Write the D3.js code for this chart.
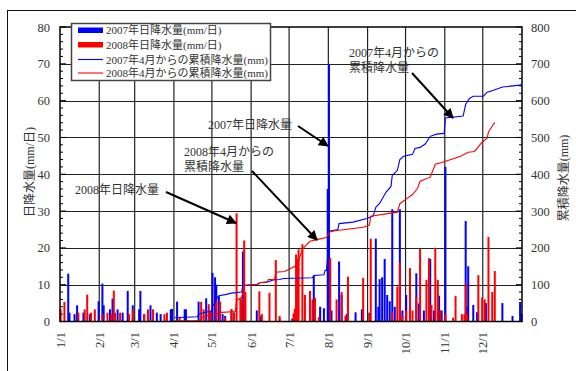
<!DOCTYPE html>
<html>
<head>
<meta charset="utf-8">
<script src="https://cdn.jsdelivr.net/npm/d3@7"></script>
<style>
  body { margin: 0; background: #fff; }
  svg text { font-family: "Liberation Serif", "DejaVu Serif", "Noto Sans CJK JP", serif; fill: #333; }
</style>
</head>
<body>
<svg id="chart" width="576" height="371"></svg>
<script>
// daily rainfall [month, day, mm]
const rain2007 = [
  [1,7,13],[1,8,2.4],[1,12,2],[1,14,4.4],[1,19,2.4],[1,24,2],[1,31,5.5],
  [2,3,10.3],[2,4,4.4],[2,9,3.3],[2,11,6.2],[2,15,3.3],[2,19,2.4],[2,23,8.3],[2,27,4.4],
  [3,4,3.3],[3,5,8.3],[3,8,2],[3,13,4.4],[3,18,2.4],[3,21,2],[3,29,3.3],[3,30,3.4],
  [4,3,5.4],[4,9,3.3],[4,10,3.3],[4,20,5.4],[4,26,6.3],
  [5,1,13.2],[5,3,12],[5,4,10],[5,6,6.9],[5,9,2],[5,11,1.5],[5,16,3],[5,25,19],
  [6,5,3],[6,8,1.5],[6,23,0.8],[7,3,0.8],[7,20,12.4],[7,25,4],[7,28,3.6],[7,31,36],
  [8,1,70],[8,3,3],[8,9,16.3],[8,11,7.2],[8,15,2],[8,22,2.5],[8,27,3.3],
  [9,2,2.4],[9,7,22.5],[9,9,4],[9,10,11.5],[9,12,12],[9,14,17],[9,16,7.2],[9,18,5.5],
  [9,20,30.5],[9,22,4],[9,26,30.5],[9,28,3],
  [10,1,7.2],[10,9,13.1],[10,11,4.9],[10,15,3],[10,20,17],[10,23,3],[10,27,7],[10,29,3],
  [11,1,42],[11,17,27.3],[11,18,4],[11,19,15],[11,23,4.5],[11,26,2.5],
  [12,3,5],[12,16,5],[12,24,1.5],[12,30,5.3],[12,31,2]
];
const rain2008 = [
  [1,1,3.3],[1,4,5.3],[1,15,2.4],[1,20,3.3],[1,22,7.3],[1,25,2.4],[1,28,3.3],
  [2,3,2],[2,7,2.4],[2,10,2],[2,12,8.4],[2,13,2.4],[2,17,2.4],[2,24,2],[2,27,3.3],
  [3,8,2],[3,11,3.3],[3,15,3.3],[3,24,2],[3,26,2.4],
  [4,5,1.2],[4,22,5.3],[4,24,3.3],[4,28,4.7],[4,29,3],
  [5,4,6],[5,7,5.4],[5,11,1],[5,16,3.4],[5,18,2.5],[5,20,29.4],[5,23,6.5],[5,24,6],[5,26,22],[5,27,8],
  [6,7,8.2],[6,9,2],[6,15,7.8],[6,20,16.7],[6,23,1.5],
  [7,4,2.2],[7,5,3.5],[7,6,18.2],[7,7,17],[7,8,19.6],[7,11,21],[7,13,7.2],[7,17,8.3],
  [7,19,6],[7,21,6.4],[7,24,1.2],
  [8,2,17.3],[8,7,6],[8,11,8],[8,14,1.5],[8,16,12.2],[8,28,11.8],
  [9,2,2],[9,3,22.5],[9,20,2.5],[9,24,9.5],[9,26,16],[9,28,1.5],
  [10,1,3],[10,4,14.5],[10,6,3],[10,9,6.6],[10,12,19.8],[10,17,11.3],[10,19,17.2],[10,21,4.5],
  [10,24,20],[10,26,11.3],[10,28,3],
  [11,1,2],[11,7,1],[11,9,6.9],[11,14,2],[11,16,2],[11,17,10.3],[11,18,2],[11,27,12.6],[11,30,6.5],
  [12,2,6],[12,5,23],[12,8,8],[12,10,13.7]
];
// cumulative rainfall since April [month, day, mm]
const cum2007 = [
  [4,1,10],[4,19,13],[4,20,20],[4,26,26],[4,30,27],[5,1,40],[5,3,52],[5,4,62],[5,6,70],
  [5,11,73],[5,16,77],[5,24,80],[5,25,98],[6,5,101],[6,8,106],[6,14,108],[6,18,113],
  [6,23,114],[6,26,117],[7,19,119],[7,20,125],[7,28,127],[7,29,139],[7,30,139],[7,31,175],
  [8,1,245],[8,8,250],[8,9,266],[8,20,270],[8,31,280],[9,5,287],[9,7,310],[9,10,321],
  [9,12,333],[9,15,351],[9,19,367],[9,20,397],[9,24,410],[9,26,440],[9,29,449],[10,6,454],
  [10,8,470],[10,12,473],[10,16,482],[10,20,503],[10,25,509],[10,31,511],[11,1,553],
  [11,15,558],[11,17,590],[11,20,606],[11,23,612],[12,1,612],[12,4,623],[12,9,628],
  [12,16,637],[12,30,642],[12,31,645]
];
const cum2008 = [
  [4,1,2],[4,21,2],[4,22,8],[4,27,16],[5,2,17],[5,6,24],[5,19,27],[5,20,57],[5,23,63],
  [5,24,65],[5,26,98],[6,6,101],[6,8,106],[6,13,106],[6,14,114],[6,19,114],[6,20,134],
  [6,27,136],[7,5,150],[7,8,165],[7,11,196],[7,13,204],[7,17,218],[7,23,223],[7,30,228],
  [8,2,244],[8,7,247],[8,14,250],[8,28,256],[9,2,262],[9,3,286],[9,24,297],[9,26,320],
  [10,2,335],[10,6,345],[10,10,362],[10,12,381],[10,20,392],[10,24,427],[10,29,432],
  [11,6,441],[11,13,449],[11,19,460],[11,24,462],[11,30,487],[12,4,498],[12,5,515],
  [12,8,531],[12,10,541]
];
const monthLabels = ['1/1','2/1','3/1','4/1','5/1','6/1','7/1','8/1','9/1','10/1','11/1','12/1'];
const dailyTicks = [0,10,20,30,40,50,60,70,80];
const cumTicks = [0,100,200,300,400,500,600,700,800];
const legendItems = [
  { label: '2007年日降水量(mm/日)', color: '#0000ff', type: 'bar' },
  { label: '2008年日降水量(mm/日)', color: '#ff0000', type: 'bar' },
  { label: '2007年4月からの累積降水量(mm)', color: '#0000ff', type: 'line' },
  { label: '2008年4月からの累積降水量(mm)', color: '#ff0000', type: 'line' }
];

const svg = d3.select('#chart');
const plotLeft = 60, plotRight = 522, plotTop = 27, plotBottom = 321.5;

// all dates are put on one (non-leap) calendar year
const toDate = (m, d) => new Date(2007, m - 1, d, 12);
const x = d3.scaleTime()
  .domain([new Date(2007, 0, 1), new Date(2008, 0, 1)])
  .range([plotLeft, plotRight]);
const yL = d3.scaleLinear().domain([0, 80]).range([plotBottom, plotTop]);
const yR = d3.scaleLinear().domain([0, 800]).range([plotBottom, plotTop]);

// outer frame
svg.append('rect')
  .attr('x', 7.5).attr('y', 10.5)
  .attr('width', 620).attr('height', 400)
  .attr('fill', 'none').attr('stroke', '#111').attr('stroke-width', 1);

// grid
const grid = svg.append('g');
grid.selectAll('line.h')
  .data(dailyTicks.slice(1, -1))
  .join('line')
  .attr('x1', plotLeft).attr('x2', plotRight)
  .attr('y1', d => Math.round(yL(d)) + 0.5).attr('y2', d => Math.round(yL(d)) + 0.5)
  .attr('stroke', '#222').attr('stroke-width', 1.2);
grid.selectAll('line.v')
  .data(d3.range(1, 12))
  .join('line')
  .attr('x1', d => x(new Date(2007, d, 1))).attr('x2', d => x(new Date(2007, d, 1)))
  .attr('y1', plotTop).attr('y2', plotBottom)
  .attr('stroke', '#222').attr('stroke-width', 1.2);

// minor ticks (inward)
const ticks = svg.append('g').attr('stroke', '#000').attr('stroke-width', 1);
ticks.selectAll('line.l')
  .data(d3.range(0, 81, 2))
  .join('line')
  .attr('x1', plotLeft).attr('x2', d => plotLeft + (d % 10 === 0 ? 6 : 3))
  .attr('y1', d => yL(d)).attr('y2', d => yL(d));
ticks.selectAll('line.r')
  .data(d3.range(0, 801, 20))
  .join('line')
  .attr('x1', plotRight).attr('x2', d => plotRight - (d % 100 === 0 ? 6 : 3))
  .attr('y1', d => yR(d)).attr('y2', d => yR(d));

// bars
const barW = 2;
const bars = svg.append('g');
[[rain2007, '#0000ff'], [rain2008, '#ff0000']].forEach(([data, color]) => {
  bars.append('g').selectAll('rect')
    .data(data)
    .join('rect')
    .attr('x', d => x(toDate(d[0], d[1])) - barW / 2)
    .attr('y', d => yL(d[2]))
    .attr('width', barW)
    .attr('height', d => plotBottom - yL(d[2]))
    .attr('fill', color);
});

// cumulative lines
const line = d3.line()
  .x(d => x(toDate(d[0], d[1])))
  .y(d => yR(d[2]));
[[cum2007, '#0000ff'], [cum2008, '#ff0000']].forEach(([data, color]) => {
  svg.append('path')
    .datum(data)
    .attr('d', line)
    .attr('fill', 'none')
    .attr('stroke', color)
    .attr('stroke-width', 1.1);
});

// plot frame
svg.append('rect')
  .attr('x', plotLeft).attr('y', plotTop)
  .attr('width', plotRight - plotLeft).attr('height', plotBottom - plotTop)
  .attr('fill', 'none').attr('stroke', '#000').attr('stroke-width', 1.5);

// axis labels
svg.append('g').selectAll('text')
  .data(dailyTicks)
  .join('text')
  .attr('x', 50).attr('y', d => yL(d) + 4.5)
  .attr('text-anchor', 'end')
  .style('font-size', '12.5px')
  .text(d => d);
svg.append('g').selectAll('text')
  .data(cumTicks)
  .join('text')
  .attr('x', 531).attr('y', d => yR(d) + 4.5)
  .style('font-size', '12.5px')
  .text(d => d);
svg.append('g').selectAll('text')
  .data(monthLabels)
  .join('text')
  .attr('transform', (d, i) => `translate(${x(new Date(2007, i, 1)) + 4.5},332) rotate(-90)`)
  .attr('text-anchor', 'end')
  .style('font-size', '12.5px')
  .text(d => d);

svg.append('text')
  .attr('transform', 'translate(34,172) rotate(-90)')
  .attr('text-anchor', 'middle')
  .style('font-size', '12px')
  .text('日降水量(mm/日)');
svg.append('text')
  .attr('transform', 'translate(568,178) rotate(-90)')
  .attr('text-anchor', 'middle')
  .style('font-size', '12px')
  .text('累積降水量(mm)');

// legend
const lg = svg.append('g');
lg.append('rect')
  .attr('x', 71.5).attr('y', 23.5).attr('width', 199).attr('height', 57)
  .attr('fill', '#fff').attr('stroke', '#444').attr('stroke-width', 1.5);
const rowY = [30, 44.5, 59.5, 73];
legendItems.forEach((item, i) => {
  if (item.type === 'bar') {
    lg.append('rect')
      .attr('x', 78).attr('y', rowY[i] - 2.5).attr('width', 25).attr('height', 5.5)
      .attr('fill', item.color);
  } else {
    lg.append('line')
      .attr('x1', 78).attr('x2', 103).attr('y1', rowY[i]).attr('y2', rowY[i])
      .attr('stroke', item.color).attr('stroke-width', 1.1);
  }
  lg.append('text')
    .attr('x', 106).attr('y', rowY[i] + 4)
    .style('font-size', '11px')
    .text(item.label);
});

// annotations
svg.append('defs').append('marker')
  .attr('id', 'arrow')
  .attr('viewBox', '0 -5 10 10')
  .attr('refX', 9).attr('refY', 0)
  .attr('markerUnits', 'userSpaceOnUse')
  .attr('markerWidth', 11).attr('markerHeight', 10)
  .attr('orient', 'auto')
  .append('path')
  .attr('d', 'M0,-5L10,0L0,5Z')
  .attr('fill', '#000');

const notes = [
  { lines: ['2007年4月からの', '累積降水量'], tx: 349, ty: 57, from: [412, 73], to: [453, 118] },
  { lines: ['2007年日降水量'], tx: 208, ty: 129, from: [298, 126], to: [328, 146] },
  { lines: ['2008年4月からの', '累積降水量'], tx: 184, ty: 156, from: [252, 171], to: [317, 240] },
  { lines: ['2008年日降水量'], tx: 75, ty: 194, from: [166, 192], to: [236, 223] }
];
notes.forEach(n => {
  n.lines.forEach((t, i) => {
    svg.append('text')
      .attr('x', n.tx).attr('y', n.ty + i * 15)
      .style('font-size', '12px')
      .text(t);
  });
  svg.append('line')
    .attr('x1', n.from[0]).attr('y1', n.from[1])
    .attr('x2', n.to[0]).attr('y2', n.to[1])
    .attr('stroke', '#000').attr('stroke-width', 2)
    .attr('marker-end', 'url(#arrow)');
});
</script>
</body>
</html>
